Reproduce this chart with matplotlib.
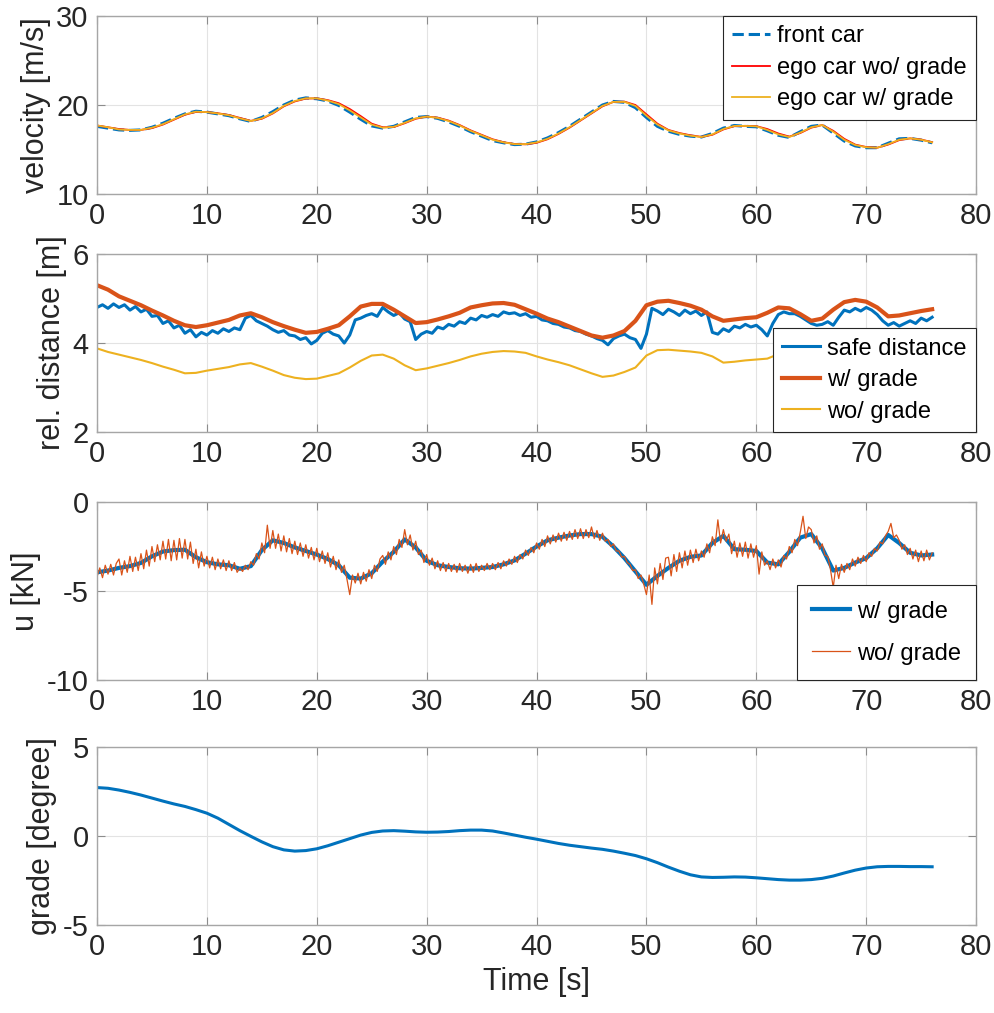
import matplotlib.pyplot as plt
import numpy as np

plt.rcParams['font.family'] = ['Liberation Sans Narrow', 'Liberation Sans', 'DejaVu Sans']
plt.rcParams['axes.unicode_minus'] = False

### Data
t_sec = np.arange(0, 77)              # 1 s samples
t_half = np.arange(0, 76.01, 0.5)     # 0.5 s samples
t_quarter = np.arange(0, 76.01, 0.25) # 0.25 s samples

front_car = [17.6, 17.4, 17.2, 17.15, 17.2, 17.5, 17.95, 18.5, 19.0, 19.3, 19.2, 19.0, 18.8, 18.45, 18.15, 18.6,
             19.25, 20.0, 20.55, 20.8, 20.7, 20.45, 19.95, 19.2, 18.4, 17.65, 17.4, 17.6, 18.1, 18.6, 18.7, 18.5,
             18.1, 17.6, 17.0, 16.5, 16.0, 15.75, 15.55, 15.6, 15.85, 16.3, 16.9, 17.6, 18.4, 19.2, 20.0, 20.4,
             20.3, 19.7, 18.6, 17.6, 17.05, 16.7, 16.5, 16.4, 16.8, 17.4, 17.7, 17.6, 17.55, 17.1, 16.6, 16.35,
             17.0, 17.6, 17.75, 16.85, 15.95, 15.4, 15.2, 15.2, 15.7, 16.2, 16.25, 16.05, 15.75]
ego_wo_grade = [17.7, 17.5, 17.3, 17.2, 17.2, 17.4, 17.8, 18.35, 18.9, 19.22, 19.2, 19.07, 18.88, 18.55, 18.22, 18.45,
                19.05, 19.85, 20.4, 20.72, 20.75, 20.55, 20.2, 19.55, 18.75, 17.9, 17.5, 17.52, 17.95, 18.45, 18.7,
                18.58, 18.25, 17.75, 17.15, 16.65, 16.15, 15.82, 15.62, 15.58, 15.75, 16.15, 16.75, 17.45, 18.25,
                19.05, 19.85, 20.35, 20.38, 20.0, 18.95, 17.9, 17.2, 16.85, 16.6, 16.42, 16.65, 17.25, 17.62, 17.66,
                17.62, 17.3, 16.8, 16.45, 16.85, 17.45, 17.75, 17.1, 16.2, 15.55, 15.28, 15.2, 15.55, 16.05, 16.25,
                16.12, 15.82]
ego_w_grade = [17.7, 17.5, 17.25, 17.2, 17.2, 17.45, 17.85, 18.4, 18.95, 19.25, 19.2, 19.05, 18.85, 18.5, 18.2, 18.5,
               19.1, 19.9, 20.45, 20.75, 20.75, 20.5, 20.1, 19.4, 18.6, 17.8, 17.45, 17.55, 18.0, 18.5, 18.7, 18.55,
               18.2, 17.7, 17.1, 16.6, 16.1, 15.8, 15.6, 15.6, 15.8, 16.2, 16.8, 17.5, 18.3, 19.1, 19.9, 20.35,
               20.35, 19.9, 18.8, 17.8, 17.15, 16.8, 16.55, 16.4, 16.7, 17.3, 17.65, 17.65, 17.6, 17.2, 16.7, 16.4,
               16.9, 17.5, 17.75, 17.0, 16.1, 15.5, 15.25, 15.2, 15.6, 16.1, 16.25, 16.1, 15.8]

safe_distance = [4.80, 4.86, 4.78, 4.88, 4.80, 4.86, 4.74, 4.82, 4.70, 4.76, 4.60, 4.62, 4.44, 4.50, 4.34, 4.40,
                 4.22, 4.30, 4.14, 4.24, 4.18, 4.28, 4.22, 4.32, 4.26, 4.34, 4.30, 4.56, 4.62, 4.50, 4.44, 4.38,
                 4.30, 4.24, 4.28, 4.18, 4.16, 4.08, 4.12, 3.98, 4.06, 4.22, 4.28, 4.20, 4.16, 4.00, 4.18, 4.52,
                 4.56, 4.62, 4.66, 4.60, 4.80, 4.70, 4.62, 4.68, 4.54, 4.48, 4.08, 4.20, 4.26, 4.22, 4.36, 4.32,
                 4.42, 4.38, 4.48, 4.44, 4.56, 4.52, 4.62, 4.58, 4.64, 4.60, 4.70, 4.66, 4.68, 4.62, 4.66, 4.58,
                 4.60, 4.52, 4.50, 4.44, 4.42, 4.36, 4.34, 4.28, 4.26, 4.20, 4.16, 4.10, 4.06, 3.96, 4.10, 4.16,
                 4.20, 4.12, 4.08, 3.88, 4.20, 4.78, 4.72, 4.64, 4.76, 4.70, 4.62, 4.74, 4.66, 4.72, 4.62, 4.70,
                 4.24, 4.20, 4.32, 4.26, 4.38, 4.34, 4.42, 4.36, 4.40, 4.30, 4.16, 4.44, 4.64, 4.70, 4.66, 4.66,
                 4.60, 4.52, 4.44, 4.40, 4.42, 4.48, 4.40, 4.58, 4.74, 4.70, 4.78, 4.72, 4.80, 4.74, 4.64, 4.50,
                 4.40, 4.46, 4.38, 4.44, 4.50, 4.44, 4.56, 4.50, 4.58]
dist_w_grade = [5.3, 5.2, 5.05, 4.95, 4.85, 4.73, 4.62, 4.5, 4.4, 4.36, 4.4, 4.46, 4.52, 4.62, 4.67, 4.58, 4.47,
                4.38, 4.3, 4.23, 4.25, 4.32, 4.4, 4.6, 4.82, 4.88, 4.88, 4.75, 4.6, 4.45, 4.47, 4.53, 4.6, 4.68,
                4.8, 4.85, 4.89, 4.9, 4.86, 4.76, 4.66, 4.55, 4.47, 4.37, 4.27, 4.17, 4.12, 4.17, 4.27, 4.5, 4.85,
                4.93, 4.95, 4.9, 4.84, 4.75, 4.6, 4.5, 4.53, 4.56, 4.58, 4.68, 4.8, 4.78, 4.65, 4.5, 4.55, 4.75,
                4.92, 4.97, 4.93, 4.8, 4.6, 4.62, 4.67, 4.72, 4.76]
dist_wo_grade = [3.88, 3.8, 3.74, 3.68, 3.62, 3.55, 3.47, 3.4, 3.32, 3.33, 3.38, 3.42, 3.46, 3.52, 3.55, 3.47, 3.38,
                 3.28, 3.22, 3.19, 3.2, 3.26, 3.32, 3.45, 3.6, 3.72, 3.74, 3.65, 3.5, 3.39, 3.43, 3.49, 3.55, 3.62,
                 3.7, 3.76, 3.8, 3.82, 3.81, 3.78, 3.7, 3.63, 3.57, 3.5, 3.41, 3.32, 3.24, 3.27, 3.35, 3.45, 3.72,
                 3.84, 3.85, 3.83, 3.81, 3.78, 3.7, 3.56, 3.58, 3.61, 3.63, 3.65, 3.75, 3.76, 3.66, 3.58, 3.62,
                 3.76, 3.85, 3.88, 3.86, 3.75, 3.62, 3.65, 3.68, 3.71, 3.73]

u_w_grade = [-3.95, -3.85, -3.7, -3.6, -3.42, -3.05, -2.78, -2.7, -2.68, -3.1, -3.38, -3.5, -3.55, -3.75, -3.6,
             -2.7, -2.15, -2.3, -2.55, -2.75, -2.95, -3.2, -3.55, -4.25, -4.3, -4.0, -3.35, -2.8, -2.1, -2.55,
             -3.3, -3.55, -3.65, -3.72, -3.74, -3.7, -3.65, -3.5, -3.28, -2.9, -2.5, -2.15, -2.0, -1.88, -1.8,
             -1.8, -1.95, -2.5, -3.15, -3.9, -4.65, -4.15, -3.7, -3.3, -3.08, -3.0, -2.3, -1.9, -2.65, -2.68,
             -2.75, -3.4, -3.5, -2.8, -2.0, -1.8, -2.6, -3.85, -3.7, -3.4, -3.15, -2.6, -1.85, -2.3, -2.85,
             -3.0, -2.95]
u_wo_grade = [-4.20, -3.70, -4.25, -3.55, -4.05, -3.50, -4.10, -3.45,
              -3.20, -4.10, -3.30, -3.95, -3.05, -3.90, -3.10, -3.85,
              -2.90, -3.75, -2.70, -3.60, -2.50, -3.35, -2.40, -3.25,
              -2.20, -3.20, -2.10, -3.30, -2.15, -3.25, -2.05, -3.15,
              -2.10, -3.20, -2.25, -3.45, -2.65, -3.70, -2.80, -3.60,
              -3.05, -3.70, -3.10, -3.80, -3.20, -3.75, -3.25, -3.85,
              -3.30, -3.85, -3.40, -3.95, -3.70, -3.90, -3.55, -3.80,
              -3.35, -3.55, -2.90, -3.20, -2.30, -2.85, -1.30, -2.60,
              -1.60, -2.60, -1.80, -2.75, -1.90, -2.80, -2.05, -2.90,
              -2.20, -2.95, -2.30, -3.05, -2.40, -3.15, -2.55, -3.25,
              -2.60, -3.35, -2.75, -3.45, -2.85, -3.65, -3.05, -3.80,
              -3.25, -3.95, -3.55, -4.35, -5.20, -4.10, -4.55, -4.00,
              -4.60, -3.95, -4.45, -3.80, -4.30, -3.55, -3.90, -3.20,
              -3.00, -3.50, -2.80, -3.25, -2.50, -2.95, -2.10, -2.55,
              -1.55, -2.40, -1.85, -2.70, -2.20, -2.95, -2.70, -3.40,
              -2.95, -3.55, -3.15, -3.75, -3.30, -3.85, -3.40, -3.90,
              -3.45, -3.90, -3.50, -3.95, -3.45, -3.90, -3.55, -4.00,
              -3.50, -3.95, -3.45, -3.90, -3.55, -3.85, -3.45, -3.80,
              -3.45, -3.80, -3.40, -3.75, -3.30, -3.60, -3.20, -3.50,
              -3.05, -3.40, -2.95, -3.20, -2.70, -3.00, -2.55, -2.85,
              -2.30, -2.65, -2.10, -2.50, -1.90, -2.35, -1.85, -2.25,
              -1.75, -2.20, -1.70, -2.15, -1.65, -2.10, -1.55, -2.05,
              -1.50, -2.05, -1.55, -2.00, -1.40, -2.05, -1.60, -2.15,
              -1.75, -2.20, -2.10, -2.50, -2.35, -2.75, -2.75, -3.10,
              -3.05, -3.40, -3.50, -3.85, -3.80, -4.30, -4.10, -4.60,
              -5.20, -4.10, -5.75, -3.70, -4.60, -3.45, -4.35, -3.15,
              -3.10, -4.15, -2.95, -3.90, -2.85, -3.70, -2.75, -3.55,
              -2.70, -3.40, -2.65, -3.30, -2.75, -3.10, -2.35, -2.85,
              -1.95, -2.45, -1.00, -2.30, -1.55, -2.20, -1.80, -2.90,
              -2.20, -3.10, -2.30, -3.05, -2.25, -3.15, -2.35, -3.10,
              -2.45, -4.05, -2.80, -3.55, -3.30, -3.80, -3.20, -3.70,
              -3.25, -3.65, -3.00, -3.20, -2.50, -2.85, -2.10, -2.45,
              -1.70, -0.80, -2.05, -1.40, -1.55, -2.30, -1.90, -2.65,
              -2.35, -3.00, -3.05, -3.80, -4.80, -3.55, -4.30, -3.50,
              -3.95, -3.45, -3.80, -3.20, -3.60, -3.10, -3.45, -3.00,
              -3.35, -2.85, -3.05, -2.60, -2.75, -2.25, -2.35, -1.90,
              -1.65, -1.20, -2.00, -1.85, -2.15, -2.65, -2.40, -2.95,
              -2.60, -3.20, -2.70, -3.35, -2.75, -3.30, -2.70, -3.25,
              -2.85]

grade = [2.72, 2.68, 2.58, 2.45, 2.3, 2.13, 1.96, 1.8, 1.66, 1.48, 1.28, 1.0, 0.65, 0.3, -0.02, -0.33, -0.6, -0.78,
         -0.85, -0.82, -0.72, -0.55, -0.35, -0.15, 0.05, 0.2, 0.28, 0.3, 0.27, 0.23, 0.21, 0.22, 0.25, 0.3, 0.33,
         0.33, 0.28, 0.17, 0.05, -0.07, -0.18, -0.3, -0.42, -0.52, -0.6, -0.68, -0.75, -0.85, -0.97, -1.1, -1.28,
         -1.5, -1.75, -1.98, -2.18, -2.3, -2.33, -2.32, -2.3, -2.31, -2.35, -2.4, -2.45, -2.48, -2.48, -2.45,
         -2.38, -2.25, -2.08, -1.92, -1.8, -1.73, -1.71, -1.71, -1.72, -1.72, -1.73]

### Colours (MATLAB defaults)
blue = '#0072BD'
orange = '#D95319'
yellow = '#EDB120'

fig = plt.figure(figsize=(9.95, 10.13), dpi=100)
left, width = 0.0975, 0.8835
bottoms = [0.8085, 0.5735, 0.3287, 0.0869]
height = 0.1757
axes = [fig.add_axes([left, b, width, height]) for b in bottoms]

# shared legend look (MATLAB style box)
legend_kw = dict(fontsize=17, borderaxespad=0, handlelength=1.6, handletextpad=0.3,
                 borderpad=0.4, labelspacing=0.4, fancybox=False, framealpha=1,
                 edgecolor='#262626')

# Panel 1: velocity
ax = axes[0]
ax.plot(t_sec, front_car, '--', color=blue, lw=2.2, label='front car')
ax.plot(t_sec, ego_wo_grade, color='red', lw=1.3, label='ego car wo/ grade')
ax.plot(t_sec, ego_w_grade, color=yellow, lw=1.3, label='ego car w/ grade')
ax.set_ylim(10, 30)
ax.set_yticks([10, 20, 30])
ax.set_ylabel('velocity [m/s]')
ax.legend(loc='upper right', **legend_kw)

# Panel 2: relative distance
ax = axes[1]
ax.plot(t_half, safe_distance, color=blue, lw=2.2, label='safe distance')
ax.plot(t_sec, dist_w_grade, color=orange, lw=3, label='w/ grade')
ax.plot(t_sec, dist_wo_grade, color=yellow, lw=1.5, label='wo/ grade')
ax.set_ylim(2, 6)
ax.set_yticks([2, 4, 6])
ax.set_ylabel('rel. distance [m]')
ax.legend(loc='lower right', **legend_kw)

# Panel 3: control input
ax = axes[2]
ax.plot(t_sec, u_w_grade, color=blue, lw=3, label='w/ grade')
ax.plot(t_quarter, u_wo_grade, color=orange, lw=0.9, label='wo/ grade')
ax.set_ylim(-10, 0)
ax.set_yticks([-10, -5, 0])
ax.set_ylabel('u [kN]')
kw3 = dict(legend_kw, labelspacing=0.85, borderpad=0.65)
ax.legend(loc='lower right', **kw3)

# Panel 4: road grade
ax = axes[3]
ax.plot(t_sec, grade, color=blue, lw=2.2)
ax.set_ylim(-5, 5)
ax.set_yticks([-5, 0, 5])
ax.set_ylabel('grade [degree]')
ax.set_xlabel('Time [s]', fontsize=22, color='#262626')

for ax in axes:
    ax.set_xlim(0, 80)
    ax.set_xticks(range(0, 81, 10))
    ax.grid(True, color='#e3e3e3', lw=0.8)
    ax.set_axisbelow(True)
    ax.tick_params(direction='in', length=6, width=0.8, color='#8c8c8c',
                   top=True, right=True, labelsize=21, labelcolor='#262626', pad=6)
    for s in ax.spines.values():
        s.set_color('#a6a6a6')
        s.set_linewidth(1.0)
    ax.yaxis.label.set_size(22)
    ax.yaxis.label.set_color('#262626')
    ax.yaxis.labelpad = 4
    leg = ax.get_legend()
    if leg:
        leg.get_frame().set_linewidth(0.8)

fig.savefig('out.png', dpi=100)
